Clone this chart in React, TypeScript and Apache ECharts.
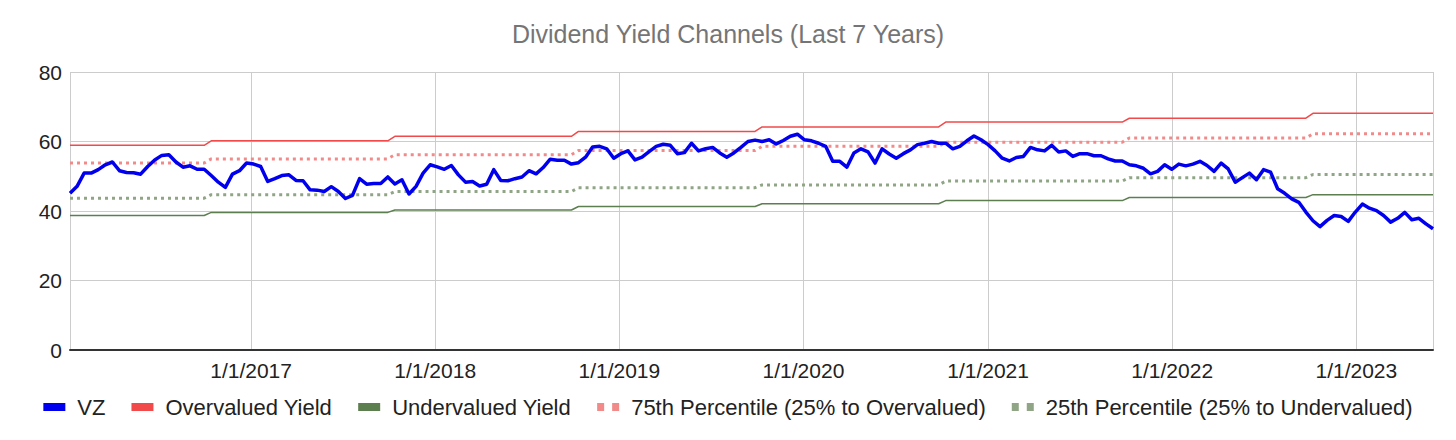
import React, { useEffect, useRef } from "react";
import * as echarts from "echarts";

const TITLE = "Dividend Yield Channels (Last 7 Years)";
const FONT = "'Liberation Sans', Arial, Helvetica, sans-serif";

// Bi-weekly observations, first one on 2016-01-08
const START = [2016, 0, 8];
const STEP_DAYS = 14;

const vzYield = [
  45.1, 47.1, 50.9, 50.9, 51.9, 53.3, 54.1, 51.6, 51.1, 51.0, 50.6, 52.8, 54.7, 56.0, 56.2, 54.1, 52.6, 53.0, 52.0, 52.0,
  50.2, 48.3, 46.8, 50.6, 51.6, 53.8, 53.5, 52.8, 48.5, 49.3, 50.2, 50.4, 48.8, 48.7, 46.1, 46.0, 45.6, 47.0, 45.6, 43.6,
  44.5, 49.3, 47.7, 47.9, 47.9, 49.8, 47.8, 49.0, 44.9, 47.1, 50.9, 53.3, 52.7, 52.0, 53.1, 50.4, 48.3, 48.5, 47.2, 47.7,
  51.9, 48.8, 48.7, 49.3, 49.8, 51.6, 50.7, 52.5, 54.9, 54.6, 54.6, 53.5, 53.9, 55.5, 58.4, 58.6, 57.9,
  55.2, 56.5, 57.3, 54.7, 55.5, 57.1, 58.6, 59.2, 58.9, 56.5, 56.8, 59.5, 57.3, 57.9, 58.3, 56.7, 55.5, 56.7, 58.3, 60.0,
  60.4, 60.0, 60.5, 59.3, 60.3, 61.5, 62.1, 60.5, 60.2, 59.5, 58.6, 54.3, 54.3, 52.6, 56.7, 57.9, 57.0, 53.8,
  57.9, 56.4, 55.2, 56.5, 57.6, 59.1, 59.5, 60.0, 59.5, 59.5, 57.9, 58.6, 60.2, 61.6, 60.5, 59.1, 57.3, 55.2, 54.4, 55.4,
  55.7, 58.3, 57.6, 57.3, 58.9, 57.0, 57.3, 55.7, 56.5, 56.5, 55.9, 55.9, 55.0, 54.4, 54.4, 53.3, 53.0, 52.3,
  50.7, 51.4, 53.3, 52.0, 53.5, 53.0, 53.5, 54.3, 53.1, 51.4, 53.8, 52.1, 48.3, 49.6, 50.9, 49.0, 51.9, 51.2, 46.4, 45.1,
  43.5, 42.5, 39.7, 37.2, 35.5, 37.3, 38.7, 38.4, 37.0, 39.7, 42.0, 40.8, 40.1, 38.7, 36.8, 37.9, 39.6, 37.5, 37.9, 36.3,
  34.9,
];

// Channel levels, each valid from its start date until the next one
const channelStarts = [
  [2016, 0, 8], [2016, 9, 14], [2017, 9, 13], [2018, 9, 12],
  [2019, 9, 11], [2020, 9, 9], [2021, 9, 8], [2022, 9, 7],
];
const overvalued = [58.9, 60.2, 61.5, 62.9, 64.2, 65.6, 66.7, 68.1];
const pct75 = [53.8, 55.0, 56.2, 57.4, 58.6, 59.8, 61.0, 62.2];
const pct25 = [43.7, 44.7, 45.6, 46.7, 47.5, 48.6, 49.6, 50.5];
const undervalued = [38.7, 39.6, 40.3, 41.3, 42.1, 43.0, 43.9, 44.7];

const yTicks = [0, 20, 40, 60, 80];

const COLORS = {
  vz: "#0000ee",
  over: "#f24a4a",
  under: "#5d7f50",
  p75: "#f28a8a",
  p25: "#8fa585",
};

function buildData() {
  const dates = vzYield.map((_, i) => new Date(START[0], START[1], START[2] + i * STEP_DAYS).getTime());
  const starts = channelStarts.map((d) => new Date(d[0], d[1], d[2]).getTime());
  const levelIdx = (t: number) => {
    let k = 0;
    for (let j = 0; j < starts.length; j++) if (t >= starts[j]) k = j;
    return k;
  };
  const mk = (vals: number[]) => dates.map((t) => [t, vals[levelIdx(t)]]);
  return {
    dates,
    vz: dates.map((t, i) => [t, vzYield[i]]),
    over: mk(overvalued),
    under: mk(undervalued),
    p75: mk(pct75),
    p25: mk(pct25),
  };
}

export default function App() {
  const ref = useRef<HTMLDivElement>(null);

  useEffect(() => {
    document.body.style.margin = "0";
    if (!ref.current) return;
    const chart = echarts.init(ref.current, undefined, { renderer: "svg" });
    const d = buildData();
    const YEAR = 365 * 24 * 3600 * 1000;
    const dotIcon = "path://M0,0H7V8H0Z M15,0H22V8H15Z";

    chart.setOption({
      animation: false,
      backgroundColor: "#ffffff",
      title: {
        text: TITLE,
        left: "center",
        top: 21,
        padding: 0,
        textStyle: { fontFamily: FONT, fontSize: 25, fontWeight: "normal", color: "#757575" },
      },
      grid: { left: 70, right: 23, top: 72, bottom: 90 },
      legend: {
        left: "center",
        top: 396,
        padding: 0,
        itemGap: 26,
        itemWidth: 22,
        itemHeight: 8,
        textStyle: { fontFamily: FONT, fontSize: 22, color: "#222222", padding: [0, 0, 0, 7] },
        data: [
          { name: "VZ", icon: "rect", itemStyle: { color: COLORS.vz } },
          { name: "Overvalued Yield", icon: "rect", itemStyle: { color: COLORS.over } },
          { name: "Undervalued Yield", icon: "rect", itemStyle: { color: COLORS.under } },
          { name: "75th Percentile (25% to Overvalued)", icon: dotIcon, itemStyle: { color: COLORS.p75 } },
          { name: "25th Percentile (25% to Undervalued)", icon: dotIcon, itemStyle: { color: COLORS.p25 } },
        ],
      },
      xAxis: {
        type: "time",
        min: d.dates[0],
        max: d.dates[d.dates.length - 1],
        minInterval: YEAR,
        maxInterval: YEAR + 24 * 3600 * 1000,
        axisLine: { show: true, lineStyle: { color: "#333333", width: 2 } },
        axisTick: { show: false },
        splitLine: { show: true, lineStyle: { color: "#cccccc", width: 1 } },
        axisLabel: {
          fontFamily: FONT,
          fontSize: 21,
          color: "#222222",
          margin: 10,
          formatter: (v: number) => {
            const t = new Date(v);
            return `${t.getMonth() + 1}/${t.getDate()}/${t.getFullYear()}`;
          },
        },
      },
      yAxis: {
        type: "value",
        min: yTicks[0],
        max: yTicks[yTicks.length - 1],
        interval: yTicks[1] - yTicks[0],
        axisLine: { show: false },
        axisTick: { show: false },
        splitLine: { show: true, lineStyle: { color: "#cccccc", width: 1 } },
        axisLabel: { fontFamily: FONT, fontSize: 21, color: "#222222", margin: 8 },
      },
      series: [
        {
          name: "Overvalued Yield",
          type: "line",
          data: d.over,
          showSymbol: false,
          symbol: "none",
          lineStyle: { color: COLORS.over, width: 1.5 },
          itemStyle: { color: COLORS.over },
          emphasis: { disabled: true },
          z: 2,
        },
        {
          name: "Undervalued Yield",
          type: "line",
          data: d.under,
          showSymbol: false,
          symbol: "none",
          lineStyle: { color: COLORS.under, width: 1.5 },
          itemStyle: { color: COLORS.under },
          emphasis: { disabled: true },
          z: 2,
        },
        {
          name: "75th Percentile (25% to Overvalued)",
          type: "line",
          data: d.p75,
          showSymbol: false,
          symbol: "none",
          lineStyle: { color: COLORS.p75, width: 3, type: [3, 4] },
          itemStyle: { color: COLORS.p75 },
          emphasis: { disabled: true },
          z: 2,
        },
        {
          name: "25th Percentile (25% to Undervalued)",
          type: "line",
          data: d.p25,
          showSymbol: false,
          symbol: "none",
          lineStyle: { color: COLORS.p25, width: 3, type: [3, 4] },
          itemStyle: { color: COLORS.p25 },
          emphasis: { disabled: true },
          z: 2,
        },
        {
          name: "VZ",
          type: "line",
          data: d.vz,
          showSymbol: false,
          symbol: "none",
          lineStyle: { color: COLORS.vz, width: 3.5, join: "round" },
          itemStyle: { color: COLORS.vz },
          emphasis: { disabled: true },
          z: 3,
        },
      ],
    });

    return () => chart.dispose();
  }, []);

  return <div ref={ref} style={{ width: 1456, height: 440 }} />;
}
